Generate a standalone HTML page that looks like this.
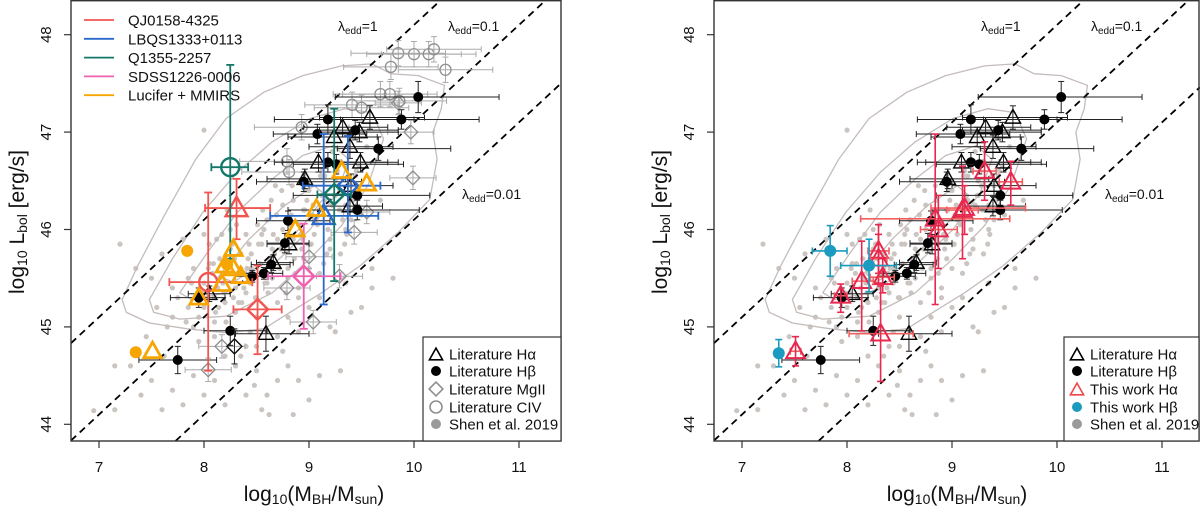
<!DOCTYPE html>
<html><head><meta charset="utf-8"><title>MBH vs Lbol</title>
<style>
html,body{margin:0;padding:0;background:#fff;overflow:hidden;}
svg{display:block;font-family:"Liberation Sans",Arial,sans-serif;}
</style></head>
<body>
<svg id="fig" width="1200" height="515" viewBox="0 0 1200 515" xmlns="http://www.w3.org/2000/svg">
<defs>
<clipPath id="clipL"><rect x="71" y="0" width="490" height="441"/></clipPath>
<clipPath id="clipR"><rect x="714" y="0" width="486" height="441"/></clipPath>
</defs>
</svg>
<script>
// ---------- data ----------
const xTicks = [7, 8, 9, 10, 11];
const yTicks = [44, 45, 46, 47, 48];
const eddRatios = [1, 0.1, 0.01];
const eddLabels = ["1", "0.1", "0.01"];

// Shen et al. 2019 sample
const shenX = [6.95,7.15,7.15,7.4,7.45,7.5,7.6,7.7,7.8,7.9,8.0,8.1,8.2,8.3,8.4,8.5,8.55,8.62,8.7,8.85,8.8,9.0,9.1,9.3,9.5,9.2,9.4,9.6,9.8,8.0,
7.2,7.35,7.5,7.55,7.65,7.7,7.8,7.85,7.9,7.95,8.0,8.05,8.1,8.15,8.2,8.25,8.3,8.35,8.4,8.45,8.5,8.55,8.6,8.65,8.7,8.75,8.8,8.85,8.9,8.95,
9.0,9.05,9.1,9.15,9.2,9.25,9.3,9.35,9.4,9.45,9.5,9.55,7.9,8.0,8.1,8.2,8.3,8.4,8.5,8.6,8.7,8.8,8.9,9.0,9.1,9.2,9.3,9.4,8.05,8.15,
8.25,8.35,8.45,8.55,8.65,8.75,8.85,8.95,9.05,9.15,9.25,9.35,7.75,7.85,8.0,8.12,8.22,8.33,8.44,8.56,8.68,8.78,8.9,9.02,9.12,9.22,8.1,8.3,8.5,8.7,
8.9,9.1,8.2,8.4,8.6,8.8,9.0,7.6,7.7,7.95,8.6,8.75,9.25,9.6,8.35,8.48,9.68,7.3,7.62,8.9,9.35,
8.02,8.08,8.14,8.18,8.24,8.28,8.32,8.38,8.42,8.46,8.52,8.58,8.62,8.66,8.72,8.76,8.82,8.86,8.92,8.96,9.02,9.06,9.12,9.18,9.22,9.28,9.32,9.38,9.42,9.48,
8.04,8.11,8.17,8.27,8.36,8.43,8.53,8.61,8.69,8.79,8.87,8.98,9.08,9.17,9.27,9.36,8.21,8.39,8.57,8.74,8.93,9.11,9.29,8.13,8.31,8.49,8.67,8.84,9.03,9.21,
7.88,7.98,8.09,8.19,8.29,8.41,8.51,8.63,8.73,8.83,8.94,9.04,9.14,9.24,9.34,9.44,7.83,8.44,8.64,8.97];
const shenY = [44.14,44.6,44.15,44.3,44.9,44.45,44.15,44.35,44.2,44.5,44.3,44.45,44.2,44.6,44.3,44.55,44.15,44.1,44.45,44.1,44.6,44.25,44.5,44.55,45.2,45.0,45.15,45.4,45.5,47.02,
45.85,45.6,45.5,45.2,45.0,45.4,45.9,45.2,45.6,45.1,45.45,45.85,45.3,45.7,45.55,46.0,45.4,45.75,45.95,45.6,45.3,45.85,46.1,45.5,45.9,46.25,45.6,46.3,46.05,45.7,
46.4,45.95,46.2,46.55,45.8,46.35,46.7,46.0,46.45,46.6,46.15,46.85,45.0,45.2,45.05,45.25,45.15,45.35,45.1,45.45,45.25,45.5,45.4,45.6,45.55,45.9,45.75,46.1,45.65,45.5,
45.8,45.6,45.75,45.95,45.8,46.0,45.9,46.2,46.1,46.3,46.5,46.25,45.3,45.5,45.95,45.9,46.2,45.25,45.45,46.2,46.45,45.35,45.3,45.85,46.6,46.8,44.9,44.95,44.8,44.9,
44.95,45.3,44.7,44.8,44.95,45.1,45.2,45.75,45.1,44.85,44.3,44.75,44.95,45.6,44.7,44.4,46.3,44.6,44.7,44.45,45.45,
45.35,45.55,45.2,45.45,45.65,45.3,45.55,45.4,45.7,45.5,45.85,45.45,45.7,45.95,45.6,45.8,46.05,45.7,45.95,46.2,45.85,46.1,46.35,46.0,46.25,46.45,46.1,46.55,46.3,46.65,
45.6,45.15,45.95,45.85,45.25,45.85,45.65,45.35,46.15,45.95,45.55,46.3,46.05,45.75,46.6,45.95,45.05,45.55,46.0,46.4,45.8,46.55,46.2,45.4,46.05,45.3,45.75,46.45,46.15,46.7,
45.45,45.35,45.65,45.35,45.7,45.6,46.05,45.65,45.8,46.15,45.9,46.25,45.65,46.35,45.85,46.55,45.05,44.95,46.3,46.4];

// contours (data coordinates)
const contour1X = [7.22,7.37,7.62,7.92,8.21,8.57,8.94,9.31,9.60,9.78,10.04,10.29,10.26,10.18,10.22,10.15,9.85,9.49,9.12,8.76,8.57,8.21,7.84,7.48,7.26];
const contour1Y = [45.28,45.63,46.14,46.72,47.14,47.41,47.58,47.68,47.70,47.60,47.58,47.48,47.24,47.0,46.72,46.31,45.97,45.63,45.35,45.11,44.98,44.94,44.98,45.04,45.15];
const contour2X = [7.48,7.70,7.99,8.32,8.65,9.01,9.34,9.60,9.71,9.56,9.31,9.01,8.65,8.21,7.77,7.52];
const contour2Y = [45.28,45.70,46.18,46.59,46.90,47.14,47.24,47.20,46.93,46.45,46.04,45.70,45.35,45.11,45.08,45.15];
const contour3X = [7.77,8.03,8.32,8.65,8.94,9.23,9.38,9.27,9.01,8.65,8.21,7.88];
const contour3Y = [45.35,45.76,46.18,46.52,46.76,46.86,46.72,46.38,46.0,45.63,45.35,45.28];
const contour4X = [8.14,8.43,8.76,9.05,9.16,8.94,8.57,8.28];
const contour4Y = [45.52,45.90,46.24,46.45,46.35,46.04,45.66,45.46];

// Literature Hbeta
const hbX   = [10.04,9.18,9.88,9.08,9.44,9.66,9.18,9.26,8.95,9.46,9.46,8.80,8.77,8.64,8.46,8.57,8.25,7.75,7.95];
const hbY   = [47.36,47.13,47.13,46.98,47.02,46.83,46.69,46.67,46.49,46.35,46.20,46.09,45.86,45.64,45.52,45.55,44.96,44.66,45.30];
const hbXlo = [9.25,8.67,9.30,8.66,9.10,9.27,8.67,8.85,8.50,8.85,8.80,8.50,8.60,8.45,8.30,8.35,8.00,7.38,7.68];
const hbXhi = [10.81,10.0,10.62,9.55,9.85,10.35,9.75,9.90,9.50,10.15,10.05,9.20,9.00,8.82,8.65,8.75,8.60,8.12,8.20];
const hbYe  = [0.16,0.15,0.10,0.10,0.10,0.12,0.10,0.10,0.10,0.10,0.10,0.10,0.10,0.08,0.06,0.06,0.15,0.14,0.10];

// Literature Halpha
const haX   = [9.58,9.32,9.48,9.24,9.39,9.49,9.09,8.96,9.39,8.81,8.66,8.05,8.59,9.40];
const haY   = [47.15,47.05,47.00,46.95,46.85,46.69,46.69,46.52,46.24,45.85,45.66,45.34,44.93,46.45];
const haXlo = [9.10,8.95,9.10,8.80,9.00,9.15,8.75,8.60,9.10,8.60,8.50,7.85,8.30,9.00];
const haXhi = [10.10,9.75,9.85,9.65,9.80,9.85,9.45,9.35,9.70,9.00,8.85,8.25,9.00,9.80];
const haYe  = [0.12,0.10,0.10,0.10,0.12,0.10,0.10,0.10,0.10,0.10,0.08,0.08,0.18,0.12];

// Literature MgII
const mgX = [9.97,9.99,9.55,9.43,9.00,8.79,9.29,9.04,8.17,8.04,9.85];
const mgY = [47.00,46.53,46.18,45.97,45.72,45.40,45.52,45.05,44.80,44.56,47.30];
// Literature CIV
const civX = [9.85,10.00,10.14,10.19,10.30,9.78,9.68,9.77,9.41,9.50,8.93,8.79,8.81,9.86];
const civY = [47.81,47.80,47.80,47.85,47.64,47.67,47.39,47.39,47.28,47.25,47.05,46.70,46.59,47.32];

// Left panel: individual objects
const objNames  = ["QJ0158-4325","LBQS1333+0113","Q1355-2257","SDSS1226-0006","Lucifer + MMIRS"];
const objColors = ["#f25450","#2a68cc","#13786a","#f060b0","#f7a500"];
const spObj   = [0,0,0,1,1,2,2,3];
const spShape = ["tri","circ","diam","tri","diam","circ","diam","diam"];
const spX     = [8.31,8.04,8.51,9.14,9.37,8.25,9.24,8.95];
const spY     = [46.22,45.46,45.18,46.14,46.45,46.64,46.36,45.52];
const spXlo   = [8.01,7.67,8.28,8.63,8.94,8.07,9.08,8.61];
const spXhi   = [8.63,8.46,8.74,9.66,9.68,8.42,9.40,9.30];
const spYlo   = [45.90,44.55,44.72,45.23,45.97,45.70,45.47,44.98];
const spYhi   = [46.52,46.38,45.63,46.98,46.96,47.69,47.24,46.06];
// Lucifer + MMIRS
const lucX     = [7.84,7.35,8.22,7.51,7.95,8.28,8.20,8.28,8.35,8.17,8.87,9.07,9.31,9.55];
const lucY     = [45.78,44.74,45.64,44.75,45.30,45.80,45.63,45.60,45.52,45.44,46.00,46.21,46.60,46.47];
const lucShape = ["circ","circ","circ","tri","tri","tri","tri","tri","tri","tri","tri","tri","tri","tri"];

// Right panel: this work
const twHaX  = [9.31,9.56,9.12,8.84,8.87,8.30,8.30,8.34,8.14,7.94,8.32,7.51,9.10];
const twHaY  = [46.60,46.49,46.22,46.11,46.00,45.78,45.70,45.51,45.47,45.32,44.93,44.75,46.20];
const twHaXlo= [9.20,9.45,8.80,8.13,8.70,8.20,8.22,8.22,8.05,7.88,8.02,7.46,8.95];
const twHaXhi= [9.42,9.67,9.70,9.55,9.05,8.40,8.38,8.45,8.25,8.00,8.63,7.56,9.25];
const twHaYlo= [46.30,46.25,45.95,45.23,45.60,45.55,45.45,45.35,44.96,45.15,44.44,44.60,45.70];
const twHaYhi= [46.90,46.70,46.45,46.98,46.35,46.05,45.95,45.70,45.88,45.44,45.42,44.90,46.65];
const twHbX  = [7.84,8.21,7.35];
const twHbY  = [45.78,45.63,44.73];
const twHbXlo= [7.67,7.94,7.34];
const twHbXhi= [8.00,8.47,7.37];
const twHbYe = [0.26,0.27,0.14];

// ---------- drawing ----------
const NS = "http://www.w3.org/2000/svg";
const svg = document.getElementById("fig");
function el(tag, attrs, parent){
  const e = document.createElementNS(NS, tag);
  for (const k in attrs) e.setAttribute(k, attrs[k]);
  (parent||svg).appendChild(e);
  return e;
}
const X0 = 99, XS = 105, Y0 = 424.3, YS = 97.4;
const XMIN = 6.733, XMAX = 11.4, YMIN = 43.83, YMAX = 48.36;
function sx(v, off){ return off + X0 + (v - 7) * XS; }
function sy(v){ return Y0 - (v - 44) * YS; }

function marker(g, shape, cx, cy, r, color, fill, sw){
  let m;
  if (shape === "tri") {
    const h = r * 1.15;
    m = el("polygon", {points: `${cx},${cy-h} ${cx-r*1.1},${cy+h*0.7} ${cx+r*1.1},${cy+h*0.7}`, fill: fill||"none", stroke: color, "stroke-width": sw}, g);
  } else if (shape === "diam") {
    m = el("polygon", {points: `${cx},${cy-r*1.15} ${cx+r*1.15},${cy} ${cx},${cy+r*1.15} ${cx-r*1.15},${cy}`, fill: fill||"none", stroke: color, "stroke-width": sw}, g);
  } else {
    m = el("circle", {cx: cx, cy: cy, r: r, fill: fill||"none", stroke: color, "stroke-width": sw}, g);
  }
  return m;
}
function errbar(g, x1, y1, x2, y2, color, sw, cap, horiz){
  el("line", {x1:x1, y1:y1, x2:x2, y2:y2, stroke: color, "stroke-width": sw}, g);
  if (horiz) {
    el("line", {x1:x1, y1:y1-cap, x2:x1, y2:y1+cap, stroke: color, "stroke-width": sw}, g);
    el("line", {x1:x2, y1:y2-cap, x2:x2, y2:y2+cap, stroke: color, "stroke-width": sw}, g);
  } else {
    el("line", {x1:x1-cap, y1:y1, x2:x1+cap, y2:y1, stroke: color, "stroke-width": sw}, g);
    el("line", {x1:x2-cap, y1:y2, x2:x2+cap, y2:y2, stroke: color, "stroke-width": sw}, g);
  }
}

function drawPanel(off, side){
  const panel = el("g", {});
  
  
  const boxL = off + 71, boxR = Math.min(off + 561, 1199);
  const plot = el("g", {"clip-path": side === "left" ? "url(#clipL)" : "url(#clipR)"}, panel);
  
  

  const shen = el("g", {}, plot);
  
  
  for (let i = 0; i < shenX.length; i++) {
    el("circle", {cx: sx(shenX[i], off), cy: sy(shenY[i]), r: 2.6, fill: "#cbc5c2"}, shen);
  }
  const cg = el("g", {}, plot);
  
  
  [[contour1X,contour1Y],[contour2X,contour2Y],[contour3X,contour3Y],[contour4X,contour4Y]].forEach(([cx,cy]) => {
    const pts = cx.map((v,i) => `${sx(v,off).toFixed(1)},${sy(cy[i]).toFixed(1)}`).join(" ");
    const p = el("polygon", {points: pts, fill: "none", stroke: "#c4bcba", "stroke-width": 1.3, "stroke-linejoin": "round"}, cg);
    
    
  });
  eddRatios.forEach((lam, i) => {
    const c = 38.1 + Math.log10(lam);
    const xa = Math.max(XMIN, YMIN - c);
    const xb = Math.min(side === "left" ? XMAX : 11.36, YMAX - c);
    const ln = el("line", {x1: sx(xa,off), y1: sy(xa + c), x2: sx(xb,off), y2: sy(xb + c), stroke: "#000", "stroke-width": 1.8, "stroke-dasharray": "7,5"}, plot);
    
    
  });

  if (side === "left") {
    for (let i = 0; i < mgX.length; i++) {
      const g = el("g", {}, plot);
      
      
      const cx = sx(mgX[i],off), cy = sy(mgY[i]);
      errbar(g, sx(mgX[i]-0.22,off), cy, sx(mgX[i]+0.22,off), cy, "#aaa", 1, 3, true);
      errbar(g, cx, sy(mgY[i]-0.12), cx, sy(mgY[i]+0.12), "#aaa", 1, 3, false);
      marker(g, "diam", cx, cy, 6, "#8f8f8f", "none", 1.3);
    }
    for (let i = 0; i < civX.length; i++) {
      const g = el("g", {}, plot);
      
      
      const cx = sx(civX[i],off), cy = sy(civY[i]);
      errbar(g, sx(civX[i]-0.45,off), cy, sx(civX[i]+0.45,off), cy, "#aaa", 1, 3, true);
      errbar(g, cx, sy(civY[i]-0.13), cx, sy(civY[i]+0.13), "#aaa", 1, 3, false);
      marker(g, "circ", cx, cy, 5.5, "#8f8f8f", "none", 1.3);
    }
  }
  for (let i = 0; i < haX.length; i++) {
    const g = el("g", {}, plot);
    
    
    const cx = sx(haX[i],off), cy = sy(haY[i]);
    errbar(g, sx(haXlo[i],off), cy, sx(haXhi[i],off), cy, "#222", 1, 3, true);
    errbar(g, cx, sy(haY[i]-haYe[i]), cx, sy(haY[i]+haYe[i]), "#222", 1, 3, false);
    marker(g, "tri", cx, cy, 7, "#000", "none", 1.4);
  }
  for (let i = 0; i < hbX.length; i++) {
    const g = el("g", {}, plot);
    
    
    const cx = sx(hbX[i],off), cy = sy(hbY[i]);
    errbar(g, sx(hbXlo[i],off), cy, sx(hbXhi[i],off), cy, "#222", 1, 3, true);
    errbar(g, cx, sy(hbY[i]-hbYe[i]), cx, sy(hbY[i]+hbYe[i]), "#222", 1, 3, false);
    marker(g, "circ", cx, cy, 4.5, "#000", "#000", 1);
  }

  if (side === "left") {
    const gd = el("g", {}, plot);
    
    
    errbar(gd, sx(8.29,off), sy(44.62), sx(8.29,off), sy(44.98), "#222", 1, 3, false);
    marker(gd, "diam", sx(8.29,off), sy(44.8), 6.5, "#111", "none", 1.5);
    for (let i = 0; i < spX.length; i++) {
      const g = el("g", {}, plot);
      
      
      const col = objColors[spObj[i]];
      const cx = sx(spX[i],off), cy = sy(spY[i]);
      errbar(g, sx(spXlo[i],off), cy, sx(spXhi[i],off), cy, col, 1.8, 4, true);
      errbar(g, cx, sy(spYlo[i]), cx, sy(Math.min(spYhi[i], 48.3)), col, 1.8, 4, false);
      marker(g, spShape[i], cx, cy, spShape[i]==="tri"?10:9, col, "none", 2.4);
    }
    for (let i = 0; i < lucX.length; i++) {
      const g = el("g", {}, plot);
      
      
      const cx = sx(lucX[i],off), cy = sy(lucY[i]);
      if (lucShape[i] === "circ") marker(g, "circ", cx, cy, 5.5, "#f7a500", "#f7a500", 1);
      else marker(g, "tri", cx, cy, 8, "#f7a500", "none", 2.8);
    }
  } else {
    for (let i = 0; i < twHaX.length; i++) {
      const g = el("g", {}, plot);
      
      
      const cx = sx(twHaX[i],off), cy = sy(twHaY[i]);
      errbar(g, sx(twHaXlo[i],off), cy, sx(twHaXhi[i],off), cy, "#f06060", 1.6, 3.5, true);
      errbar(g, cx, sy(twHaYlo[i]), cx, sy(twHaYhi[i]), "#e8284e", 1.6, 3.5, false);
      marker(g, "tri", cx, cy, 8.5, "#e8284e", "none", 2);
    }
    for (let i = 0; i < twHbX.length; i++) {
      const g = el("g", {}, plot);
      
      
      const cx = sx(twHbX[i],off), cy = sy(twHbY[i]);
      errbar(g, sx(twHbXlo[i],off), cy, sx(twHbXhi[i],off), cy, "#1a9bbf", 1.6, 3.5, true);
      errbar(g, cx, sy(twHbY[i]-twHbYe[i]), cx, sy(twHbY[i]+twHbYe[i]), "#1a9bbf", 1.6, 3.5, false);
      marker(g, "circ", cx, cy, 5.5, "#1a9bbf", "#1a9bbf", 1);
    }
  }

  const fr = el("rect", {x: boxL, y: 0.7, width: boxR - boxL, height: 440.3, fill: "none", stroke: "#333", "stroke-width": 1.4}, panel);
  
  

  xTicks.forEach(t => {
    const x = sx(t, off);
    el("line", {x1: x, y1: 441, x2: x, y2: 448, stroke: "#333", "stroke-width": 1.2}, panel);
    const tx = el("text", {x: x, y: 472, "font-size": 15, "text-anchor": "middle", fill: "#111"}, panel);
    tx.textContent = t;
    
    
  });
  yTicks.forEach(t => {
    const y = sy(t);
    el("line", {x1: boxL - 7, y1: y, x2: boxL, y2: y, stroke: "#333", "stroke-width": 1.2}, panel);
    const tx = el("text", {x: 0, y: 0, "font-size": 15, "text-anchor": "middle", fill: "#111", transform: `translate(${off+51},${y}) rotate(-90)`}, panel);
    tx.textContent = t;
    
    
  });
  const xt = el("text", {x: off + 314, y: 501, "font-size": 21, "text-anchor": "middle", fill: "#111"}, panel);
  xt.innerHTML = 'log<tspan font-size="14" dy="3">10</tspan><tspan dy="-3">(M</tspan><tspan font-size="14" dy="3">BH</tspan><tspan dy="-3">/M</tspan><tspan font-size="14" dy="3">sun</tspan><tspan dy="-3">)</tspan>';
  
  
  const yt = el("text", {x: 0, y: 0, "font-size": 21, "text-anchor": "middle", fill: "#111", transform: `translate(${off+24},222) rotate(-90)`}, panel);
  yt.innerHTML = 'log<tspan font-size="14" dy="3">10</tspan><tspan dy="-3"> L</tspan><tspan font-size="14" dy="3">bol</tspan><tspan dy="-3"> [erg/s]</tspan>';
  
  

  const lpos = [[338, 31], [448, 31], [462, 199]];
  eddLabels.forEach((lab, i) => {
    const t = el("text", {x: off + lpos[i][0], y: lpos[i][1], "font-size": 14, fill: "#111"}, panel);
    t.innerHTML = 'λ<tspan font-size="10" dy="3">edd</tspan><tspan dy="-3">=' + lab + '</tspan>';
    
    
  });

  const lg = el("g", {}, panel);
  
  
  const lx = side === "left" ? off + 423 : 1064;
  el("rect", {x: lx, y: 337, width: boxR - lx, height: 104, fill: "#fff", stroke: "#333", "stroke-width": 1.2}, lg);
  const entries = side === "left"
    ? [["tri","#000","none","Literature H","α"],["circ","#000","#000","Literature H","β"],["diam","#8f8f8f","none","Literature MgII",""],["circ","#8f8f8f","none","Literature CIV",""],["circ","#9a9a9a","#9a9a9a","Shen et al. 2019",""]]
    : [["tri","#000","none","Literature H","α"],["circ","#000","#000","Literature H","β"],["tri","#f04848","none","This work H","α"],["circ","#1a9bbf","#1a9bbf","This work H","β"],["circ","#9a9a9a","#9a9a9a","Shen et al. 2019",""]];
  const ey = [354, 371, 389, 407, 424];
  entries.forEach((e, i) => {
    const eg = el("g", {}, lg);
    
    
    const small = (e[0] === "circ" && e[2] !== "none") ? 4.2 : 6;
    marker(eg, e[0], lx + 13, ey[i] + (e[0]==="tri"?1:0), small, e[1], e[2], 1.6);
    const t = el("text", {x: lx + 26, y: ey[i] + 5.5, "font-size": 15, fill: "#111"}, eg);
    t.textContent = e[3] + e[4];
  });
}

drawPanel(0, "left");
drawPanel(643, "right");

const olg = el("g", {});


objNames.forEach((n, i) => {
  const y = 20 + i * 18.8;
  const g = el("g", {}, olg);
  
  
  el("line", {x1: 84, y1: y, x2: 114, y2: y, stroke: objColors[i], "stroke-width": 1.8}, g);
  const t = el("text", {x: 128, y: y + 5.5, "font-size": 15, fill: "#111"}, g);
  t.textContent = n;
});
</script>
</body></html>
